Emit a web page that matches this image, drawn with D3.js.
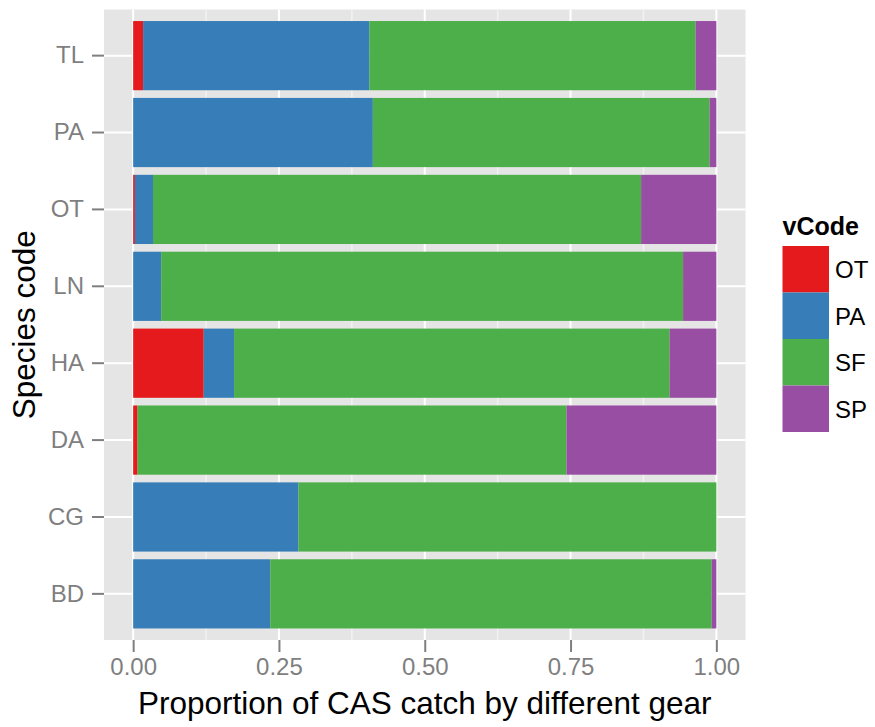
<!DOCTYPE html>
<html>
<head>
<meta charset="utf-8">
<script src="https://cdn.jsdelivr.net/npm/d3@7"></script>
<style>
  html, body { margin: 0; padding: 0; background: #fff; }
  svg { display: block; font-family: "Liberation Sans", Arial, sans-serif; }
</style>
</head>
<body>
<svg id="chart" width="875" height="727"></svg>
<script>
// ---- data ----
const categories = ["TL", "PA", "OT", "LN", "HA", "DA", "CG", "BD"];
const gearCodes = ["OT", "PA", "SF", "SP"];
const valuesOT = [0.017, 0.000, 0.003, 0.000, 0.121, 0.0075, 0.000, 0.000];
const valuesPA = [0.388, 0.411, 0.031, 0.048, 0.052, 0.000, 0.2835, 0.235];
const valuesSF = [0.5595, 0.5775, 0.837, 0.895, 0.747, 0.7355, 0.7165, 0.757];
const valuesSP = [0.0355, 0.0115, 0.129, 0.057, 0.080, 0.257, 0.000, 0.008];
const xTicks = [0, 0.25, 0.5, 0.75, 1];
const xMinor = [0.125, 0.375, 0.625, 0.875];
const colors = ["#E41A1C", "#377EB8", "#4DAF4A", "#984EA3"];

const rows = categories.map((c, i) => ({
  cat: c, OT: valuesOT[i], PA: valuesPA[i], SF: valuesSF[i], SP: valuesSP[i]
}));

const svg = d3.select("#chart");
const panel = { left: 104, right: 745.5, top: 9.5, bottom: 640 };

const x = d3.scaleLinear().domain([-0.05, 1.05]).range([panel.left, panel.right]);
const y = d3.scaleBand().domain(categories).range([panel.top, panel.bottom])
  .paddingInner(0.1).paddingOuter(0.15);
const color = d3.scaleOrdinal().domain(gearCodes).range(colors);

// panel background
svg.append("rect")
  .attr("x", panel.left).attr("y", panel.top)
  .attr("width", panel.right - panel.left).attr("height", panel.bottom - panel.top)
  .attr("fill", "#E5E5E5");

// minor grid
svg.append("g").selectAll("line").data(xMinor).join("line")
  .attr("x1", d => x(d)).attr("x2", d => x(d))
  .attr("y1", panel.top).attr("y2", panel.bottom)
  .attr("stroke", "#F2F2F2").attr("stroke-width", 1.5);

// major grid
svg.append("g").selectAll("line").data(xTicks).join("line")
  .attr("x1", d => x(d)).attr("x2", d => x(d))
  .attr("y1", panel.top).attr("y2", panel.bottom)
  .attr("stroke", "#FFFFFF").attr("stroke-width", 2);
svg.append("g").selectAll("line").data(categories).join("line")
  .attr("x1", panel.left).attr("x2", panel.right)
  .attr("y1", d => y(d) + y.bandwidth() / 2).attr("y2", d => y(d) + y.bandwidth() / 2)
  .attr("stroke", "#FFFFFF").attr("stroke-width", 2);

// stacked bars
const stack = d3.stack().keys(gearCodes);
const series = stack(rows);
svg.append("g").selectAll("g").data(series).join("g")
  .attr("fill", d => color(d.key))
  .selectAll("rect").data(d => d.map(v => ({ v, cat: v.data.cat }))).join("rect")
  .attr("x", d => x(d.v[0]))
  .attr("width", d => Math.max(0, x(d.v[1]) - x(d.v[0])))
  .attr("y", d => y(d.cat))
  .attr("height", y.bandwidth());

// x axis
const xAxis = d3.axisBottom(x).tickValues(xTicks).tickFormat(d3.format(".2f"))
  .tickSize(12).tickPadding(6);
const gx = svg.append("g").attr("transform", `translate(0,${panel.bottom})`).call(xAxis);
gx.select(".domain").remove();
gx.selectAll(".tick line").attr("stroke", "#7F7F7F").attr("stroke-width", 2);
gx.selectAll(".tick text").attr("fill", "#7F7F7F").attr("font-size", 24)
  .attr("font-family", "Liberation Sans, Arial, sans-serif");

// y axis
const yAxis = d3.axisLeft(y).tickSize(12).tickPadding(8);
const gy = svg.append("g").attr("transform", `translate(${panel.left},0)`).call(yAxis);
gy.select(".domain").remove();
gy.selectAll(".tick line").attr("stroke", "#7F7F7F").attr("stroke-width", 2);
gy.selectAll(".tick text").attr("fill", "#7F7F7F").attr("font-size", 24)
  .attr("font-family", "Liberation Sans, Arial, sans-serif");

// axis titles
svg.append("text")
  .attr("x", (x(0) + x(1)) / 2).attr("y", 714)
  .attr("text-anchor", "middle").attr("font-size", 31.5).attr("fill", "#000")
  .text("Proportion of CAS catch by different gear");
svg.append("text")
  .attr("transform", `translate(35,${(panel.top + panel.bottom) / 2}) rotate(-90)`)
  .attr("text-anchor", "middle").attr("font-size", 31.5).attr("fill", "#000")
  .text("Species code");

// legend
const legend = svg.append("g");
legend.append("text")
  .attr("x", 782.5).attr("y", 235)
  .attr("font-size", 25).attr("font-weight", "bold").attr("fill", "#000")
  .text("vCode");
const keySize = 46.5;
const keyTop = 246;
const items = legend.selectAll("g.item").data(gearCodes).join("g").attr("class", "item");
items.append("rect")
  .attr("x", 782.5).attr("y", (d, i) => keyTop + i * keySize)
  .attr("width", keySize).attr("height", keySize)
  .attr("fill", d => color(d));
items.append("text")
  .attr("x", 835).attr("y", (d, i) => keyTop + i * keySize + keySize / 2 + 9)
  .attr("font-size", 24).attr("fill", "#000")
  .text(d => d);
</script>
</body>
</html>
